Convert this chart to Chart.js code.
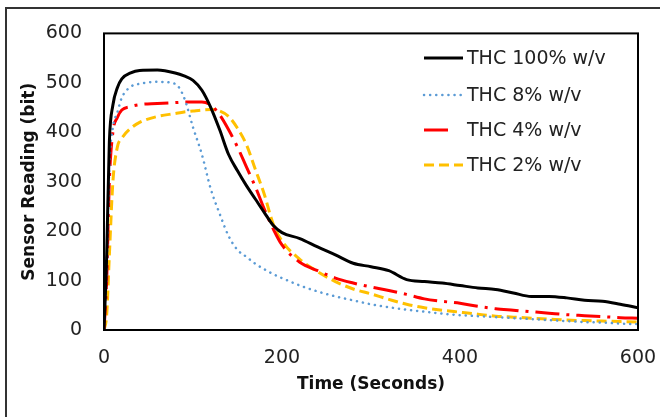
<!DOCTYPE html>
<html>
<head>
<meta charset="utf-8">
<script src="https://cdn.jsdelivr.net/npm/chart.js@4"></script>
<style>
  html, body { margin: 0; padding: 0; background: #fff; }
  #wrap { position: relative; width: 660px; height: 417px; }
  #frame { position: absolute; left: 5px; top: 7px; width: 660px; height: 420px; border: 2px solid #333; box-sizing: border-box; }
  canvas { position: absolute; left: 0; top: 0; }
</style>
</head>
<body>
<div id="wrap">
  <div id="frame"></div>
  <canvas id="sensor-chart" width="660" height="417"></canvas>
</div>
<script>
// Sensor response curves

var time = [0, 3, 6, 10, 15, 20, 30, 40, 60, 80, 90, 100, 110, 120, 130, 140, 150, 160, 170, 180, 190, 200,
            220, 240, 260, 280, 300, 320, 340, 360, 380, 400, 420, 440, 460, 480, 500, 520, 540, 560, 580, 600];

var thc100 = [0, 150, 380, 455, 490, 508, 520, 525, 526, 520, 514, 505, 485, 450, 405, 355, 322, 292, 265, 238, 212, 197,
              185, 168, 152, 135, 128, 120, 102, 98, 95, 90, 85, 82, 75, 68, 68, 65, 60, 58, 52, 45];
var thc8 = [0, 120, 330, 410, 440, 470, 492, 498, 502, 498, 470, 410, 355, 285, 235, 190, 162, 148, 134, 123, 113, 105,
            90, 78, 68, 60, 52, 46, 41, 37, 33, 30, 28, 26, 24, 22, 20, 18, 16, 15, 13, 12];
var thc4 = [0, 100, 300, 400, 430, 445, 452, 456, 458, 460, 461, 461, 461, 455, 435, 405, 370, 330, 290, 245, 205, 172,
            137, 120, 105, 95, 87, 80, 72, 63, 58, 54, 48, 43, 40, 37, 34, 31, 29, 27, 25, 24];
var thc2 = [0, 30, 150, 300, 370, 388, 408, 420, 432, 438, 441, 443, 445, 446, 443, 432, 408, 375, 325, 275, 215, 180,
            143, 118, 98, 83, 73, 62, 52, 45, 40, 36, 32, 28, 26, 24, 22, 20, 19, 18, 17, 16];

var xTicks = [0, 200, 400, 600];
var yTicks = [0, 100, 200, 300, 400, 500, 600];

function points(values) {
  return values.map(function (v, i) { return { x: time[i], y: v }; });
}

var fontFamily = '"DejaVu Sans", sans-serif';

// draws the box round the plot and the legend inside it
var boxAndLegend = {
  id: 'boxAndLegend',
  afterDraw: function (chart) {
    var ctx = chart.ctx;
    var a = chart.chartArea;
    ctx.save();
    ctx.strokeStyle = '#000';
    ctx.lineWidth = 2;
    ctx.setLineDash([]);
    ctx.strokeRect(a.left, a.top, a.right - a.left, a.bottom - a.top);

    var rows = [58, 95, 130, 165];
    chart.data.datasets.forEach(function (ds, i) {
      var y = rows[i];
      ctx.strokeStyle = ds.borderColor;
      ctx.lineWidth = ds.borderWidth;
      ctx.lineCap = ds.borderCapStyle || 'butt';
      ctx.setLineDash(ds.borderDash || []);
      ctx.beginPath();
      ctx.moveTo(424, y);
      ctx.lineTo(i == 2 ? 450 : 463, y);
      ctx.stroke();
      ctx.setLineDash([]);
      ctx.fillStyle = '#222';
      ctx.font = '19px ' + fontFamily;
      ctx.textBaseline = 'middle';
      ctx.fillText(ds.label, 467, y + 1);
    });
    ctx.restore();
  }
};

var ctx = document.getElementById('sensor-chart').getContext('2d');
var chart = new Chart(ctx, {
  type: 'line',
  data: {
    datasets: [{
      label: 'THC 100% w/v',
      data: points(thc100),
      borderColor: '#000000',
      borderWidth: 3
    },
    {
      label: 'THC 8% w/v',
      data: points(thc8),
      borderColor: '#5b9bd5',
      borderWidth: 2.5,
      borderCapStyle: 'round',
      borderDash: [0.1, 6]
    },
    {
      label: 'THC 4% w/v',
      data: points(thc4),
      borderColor: '#ff0000',
      borderWidth: 3,
      borderDash: [24, 7, 3, 7]
    },
    {
      label: 'THC 2% w/v',
      data: points(thc2),
      borderColor: '#ffc000',
      borderWidth: 3,
      borderDash: [10, 5]
    }]
  },
  options: {
    responsive: false,
    animation: false,
    cubicInterpolationMode: 'monotone',
    elements: { point: { radius: 0 } },
    layout: { padding: { top: 30, right: 22, bottom: 22, left: 0 } },
    plugins: {
      legend: { display: false },
      tooltip: { enabled: false }
    },
    scales: {
      x: {
        type: 'linear',
        min: 0,
        max: 600,
        grid: { display: false, drawTicks: false },
        border: { display: false },
        afterBuildTicks: function (axis) { axis.ticks = xTicks.map(function (v) { return { value: v }; }); },
        afterFit: function (axis) { axis.height = 65; axis.paddingLeft = 0; axis.paddingRight = 0; },
        ticks: { color: '#222', font: { family: fontFamily, size: 19 }, padding: 17, maxRotation: 0 },
        title: { display: true, text: 'Time (Seconds)', color: '#111', font: { family: fontFamily, size: 17, weight: 'bold' }, padding: { top: 0, bottom: 0 } }
      },
      y: {
        min: 0,
        max: 600,
        grid: { display: false, drawTicks: false },
        border: { display: false },
        afterBuildTicks: function (axis) { axis.ticks = yTicks.map(function (v) { return { value: v }; }); },
        afterFit: function (axis) { axis.width = 104; },
        ticks: { color: '#222', font: { family: fontFamily, size: 19 }, padding: 22 },
        title: { display: true, text: 'Sensor Reading (bit)', color: '#111', font: { family: fontFamily, size: 17, weight: 'bold' }, padding: { top: 19, bottom: 0 } }
      }
    }
  },
  plugins: [boxAndLegend]
});
</script>
</body>
</html>
